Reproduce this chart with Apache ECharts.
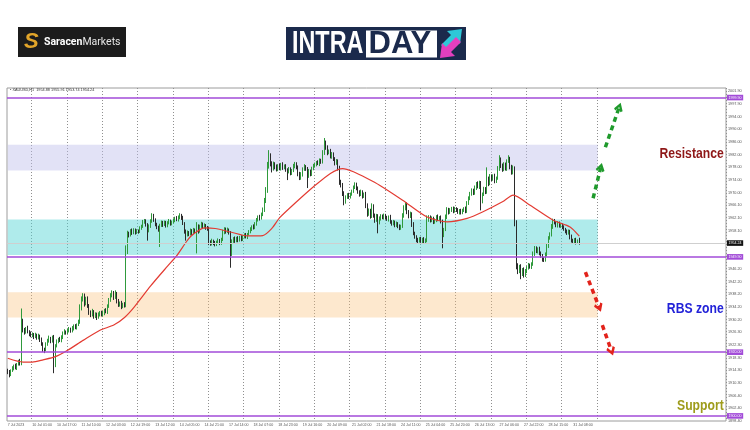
<!DOCTYPE html>
<html><head><meta charset="utf-8">
<script src="https://cdn.jsdelivr.net/npm/echarts@6.0.0/dist/echarts.min.js"></script>
<style>html,body{margin:0;padding:0;background:#fff}#chart{width:750px;height:430px}</style>
</head><body><div id="chart"></div>
<script>
// ---- data (XAUUSD H1) ----
const firstOpen = 1914.3;
const closes = [
1913.8,1913.0,1914.2,1914.9,1915.6,1915.1,1916.2,1917.0,1916.4,1929.5,1927.0,1926.2,1927.4,1926.5,1925.8,1925.2,
1925.6,1924.8,1925.3,1924.5,1925.1,1924.0,1922.6,1921.0,1920.8,1922.4,1923.6,1924.3,1923.5,1924.6,1916.0,1922.0,1923.4,1924.1,1923.6,1924.8,1925.9,1926.4,1926.1,
1926.8,1927.3,1926.6,1927.5,1928.2,1927.7,1928.6,1929.4,1933.8,1936.5,1937.6,1935.2,1936.8,1934.6,1932.5,1931.6,1932.8,1931.2,1931.9,1930.9,1931.8,1932.4,1931.7,
1932.3,1933.1,1932.6,1934.4,1936.2,1937.8,1938.6,1937.2,1938.4,1936.0,1934.8,1935.5,1934.2,1935.0,1934.6,1952.0,1957.2,1956.8,1958.1,1957.4,1958.3,1957.6,1958.0,
1957.8,1958.9,1959.6,1960.8,1961.2,1960.1,1958.2,1959.5,1961.0,1962.8,1961.5,1960.2,1959.1,1958.6,1959.8,1960.6,1960.0,1960.8,1959.7,1960.5,1961.1,1960.3,1960.9,
1961.4,1962.0,1961.5,1962.3,1962.9,1962.2,1960.4,1958.0,1956.8,1957.6,1957.0,1958.1,1957.5,1958.4,1957.9,1959.6,1958.0,1959.4,1960.2,1959.3,1959.8,1959.1,1958.7,
1954.6,1954.0,1954.9,1954.3,1953.8,1954.5,1955.0,1954.2,1955.3,1957.6,1958.6,1957.9,1958.4,1957.5,1951.0,1954.8,1955.6,1954.9,1955.8,1955.2,1956.0,1955.4,1956.3,
1956.8,1956.2,1957.0,1957.8,1958.6,1959.4,1959.0,1960.3,1961.5,1962.4,1962.0,1963.2,1964.6,1967.5,1970.8,1978.6,1981.5,1979.2,1977.6,1979.0,1978.2,1977.4,1978.5,
1977.6,1978.8,1977.9,1978.4,1977.2,1976.6,1977.4,1976.2,1977.0,1978.3,1979.0,1978.1,1976.0,1974.6,1975.8,1977.4,1978.2,1977.5,1975.2,1976.8,1975.9,1977.6,1978.4,
1978.9,1979.5,1979.1,1980.2,1979.6,1982.5,1985.6,1984.2,1982.6,1983.0,1981.4,1982.2,1980.5,1979.2,1980.0,1977.8,1973.5,1972.6,1969.8,1967.2,1968.6,1969.4,1968.8,
1969.6,1970.4,1971.8,1972.6,1971.5,1970.2,1969.4,1970.3,1968.9,1969.5,1966.0,1963.4,1964.5,1962.6,1965.8,1963.0,1961.5,1962.8,1960.6,1961.9,1962.7,1962.1,1962.9,
1962.2,1961.7,1962.5,1960.9,1960.2,1960.8,1959.8,1960.4,1959.6,1958.9,1959.4,1962.8,1965.2,1966.4,1964.1,1962.6,1963.4,1960.2,1957.4,1956.2,1955.3,1954.9,1955.6,
1954.8,1955.4,1954.6,1955.1,1961.6,1962.4,1961.2,1961.9,1960.8,1961.5,1962.6,1961.7,1962.2,1961.0,1956.8,1958.5,1962.4,1964.8,1963.9,1964.6,1965.2,1964.3,1965.0,
1964.6,1963.9,1964.5,1963.8,1964.4,1965.0,1964.2,1966.8,1968.4,1969.6,1970.8,1969.9,1971.6,1972.8,1972.0,1973.1,1967.4,1969.6,1971.2,1970.4,1974.2,1973.0,1975.1,
1974.3,1975.2,1973.8,1974.6,1977.5,1980.4,1978.6,1977.3,1978.8,1977.6,1979.9,1980.6,1978.2,1976.4,1977.8,1960.5,1947.2,1945.4,1946.8,1944.6,1945.9,1944.2,1945.5,
1946.4,1947.3,1946.8,1947.6,1950.8,1952.6,1951.8,1952.4,1951.0,1950.3,1949.2,1948.9,1950.6,1953.4,1955.8,1956.9,1959.4,1961.2,1960.6,1959.8,1960.4,1959.6,1959.9,
1959.2,1958.6,1958.0,1957.4,1957.9,1956.2,1955.0,1954.6,1955.3,1954.5,1954.88,1954.24
];
const wickUp = [
0.5,0.6,0.4,0.7,0.5,0.8,0.4,0.6,0.9,4.2,1.0,0.6,0.5,0.9,0.4,0.7,
0.6,0.4,0.8,0.5,0.7,0.4,0.6,0.5,0.4,0.7,0.6,0.9,0.5,0.6,0.8,0.5,0.6,0.4,0.7,0.5,0.6,0.8,0.4,
0.5,0.6,0.4,0.7,0.5,0.6,0.4,0.8,1.2,1.0,0.9,0.8,0.6,0.7,0.5,0.6,0.8,0.4,0.6,0.5,0.7,0.5,0.6,
0.6,0.5,0.7,0.6,0.8,0.7,0.8,0.6,1.0,0.5,0.7,0.4,0.6,0.5,0.7,1.5,0.9,0.6,0.5,0.7,0.6,0.5,0.6,
0.5,0.6,0.4,0.7,0.6,0.5,0.4,0.6,0.7,0.8,0.6,0.5,0.4,0.6,0.5,0.7,0.6,0.5,0.4,0.6,0.7,0.5,0.4,
0.6,0.5,0.7,0.6,0.7,0.5,0.6,0.4,0.5,0.6,0.4,0.7,0.5,0.6,0.4,1.2,0.5,0.6,0.7,0.5,0.6,0.4,0.5,
0.6,0.5,0.7,0.4,0.6,0.5,0.7,0.5,0.6,0.8,0.6,0.5,0.7,0.4,0.5,0.6,0.5,0.7,0.4,0.6,0.5,0.7,0.4,
0.5,0.6,0.4,0.5,0.6,0.4,0.7,0.5,0.6,0.5,0.7,0.6,0.8,0.9,1.0,1.1,1.9,0.9,0.7,0.8,0.6,0.7,0.5,
0.7,0.6,0.8,0.5,0.6,0.5,0.7,0.6,0.5,0.8,0.7,0.6,0.5,0.6,0.7,0.6,0.8,0.5,0.6,0.7,0.5,0.6,0.7,
0.6,0.5,0.7,0.6,0.5,0.9,1.6,0.8,0.7,0.6,0.8,0.6,0.5,0.7,0.6,0.5,0.7,0.6,0.5,0.7,0.6,0.5,0.6,
0.5,0.6,0.5,0.7,0.6,0.5,0.6,0.7,0.5,0.6,0.8,0.7,0.6,0.5,0.9,0.6,0.5,0.6,0.5,0.7,0.6,0.5,0.6,
0.5,0.6,0.4,0.6,0.5,0.7,0.5,0.6,0.4,0.5,0.6,0.8,0.9,0.7,0.6,0.5,0.7,0.5,0.6,0.4,0.5,0.6,0.5,
0.6,0.5,0.7,0.6,1.3,0.6,0.5,0.7,0.6,0.5,0.4,0.6,0.5,0.7,0.6,0.5,0.8,0.7,0.5,0.6,0.4,0.5,0.6,
0.5,0.6,0.4,0.5,0.6,0.5,0.7,0.6,0.5,0.7,0.6,0.5,0.7,0.6,0.8,0.7,0.6,0.5,0.7,0.6,3.8,0.9,0.8,
0.7,0.6,0.8,0.5,0.9,1.4,0.7,0.6,0.8,0.7,0.6,1.2,0.7,0.6,0.8,0.5,0.9,0.7,0.6,0.8,0.5,0.7,0.6,
0.6,0.7,0.5,0.6,0.8,0.7,0.6,0.5,0.7,0.6,0.5,0.6,0.7,0.8,0.6,0.7,0.8,0.7,0.6,0.5,0.7,0.6,0.5,
0.5,0.6,0.4,0.5,0.6,0.5,0.7,0.6,0.5,0.6,0.5,1.03
];
const wickDown = [
0.7,0.9,0.5,0.4,0.6,0.5,0.7,0.4,0.6,0.5,0.8,0.7,0.4,0.6,0.8,0.5,
0.5,0.7,0.4,0.6,0.5,0.8,0.6,0.9,1.1,0.5,0.4,0.6,0.7,0.5,2.6,0.7,0.5,0.6,0.4,0.5,0.7,0.4,0.6,
0.4,0.6,0.5,0.4,0.7,0.5,0.6,0.4,0.5,0.7,0.6,0.9,0.5,0.7,0.8,0.6,0.4,0.7,0.5,0.8,0.4,0.6,0.5,
0.5,0.7,0.4,0.6,0.5,0.4,0.6,0.8,0.5,0.7,0.6,0.5,0.7,0.4,0.6,0.5,1.2,0.8,0.5,0.6,0.4,0.7,0.5,
0.6,0.4,0.5,0.6,0.5,0.7,3.2,0.6,0.5,0.4,0.6,0.7,0.5,0.8,5.6,0.5,0.7,0.4,0.6,0.5,0.4,0.6,0.5,
0.5,0.6,0.4,0.5,0.6,0.7,0.5,0.8,1.8,0.5,0.6,0.4,0.7,0.5,0.6,6.9,0.8,0.5,0.4,0.6,0.5,0.7,0.6,
1.0,0.6,0.5,0.7,0.6,0.5,0.4,0.6,0.5,0.4,0.6,0.7,0.5,0.6,4.5,0.8,0.5,0.6,0.4,0.7,0.5,0.6,0.5,
0.6,0.5,0.7,0.4,0.5,0.6,0.5,0.4,0.6,0.5,0.7,0.4,0.5,0.6,0.7,0.8,1.0,0.9,1.2,0.6,0.8,0.7,0.6,
0.5,0.6,0.7,0.5,0.6,2.6,0.5,0.7,0.6,0.5,0.6,0.7,0.8,0.6,0.5,0.7,0.5,0.6,3.7,0.5,0.7,0.6,0.5,
0.5,0.6,0.4,0.7,0.5,0.4,0.6,0.7,0.8,0.5,0.6,0.7,0.5,0.6,0.4,0.8,1.0,0.9,0.8,1.1,0.6,0.5,0.7,
0.6,0.5,0.4,0.6,0.7,0.5,0.6,0.4,0.7,0.5,0.8,0.9,0.6,0.7,0.5,0.8,0.9,0.6,3.3,0.5,0.6,0.4,0.5,
0.6,0.5,0.7,0.6,0.5,0.4,0.6,0.5,0.7,0.6,0.5,0.4,0.6,0.7,0.8,0.6,0.5,0.9,0.7,0.6,0.8,0.7,0.5,
0.5,0.6,0.4,0.5,0.6,0.7,0.5,0.4,0.6,0.5,0.7,0.6,0.5,0.6,4.2,0.7,0.5,0.6,0.7,0.5,0.6,0.7,0.5,
0.6,0.5,0.7,0.6,0.5,0.4,0.6,0.5,0.6,0.7,0.5,0.6,0.5,0.7,0.6,0.8,2.9,0.7,0.6,0.8,0.7,0.9,0.6,
0.6,0.5,0.8,0.7,0.5,0.6,0.8,0.7,0.5,0.6,0.7,0.5,0.8,0.7,0.6,1.0,1.2,0.9,0.6,1.7,0.7,0.8,0.6,
0.7,0.5,0.6,0.7,0.5,0.6,0.7,0.8,0.6,0.7,0.8,0.6,0.5,0.6,0.7,0.5,0.6,0.7,0.5,0.6,0.7,0.5,0.6,
0.6,0.5,0.7,0.6,0.5,0.8,0.6,0.5,0.6,0.7,0.5,0.5
];
// moving average read at selected bars
const maIdx = [0,10,16,23,31,39,49,60,69,76,82,93,104,110,116,119,123,128,135,145,156,166,172,177,188,199,210,218,225,234,242,257,273,286,299,309,322,329,340,355,366,372];
const maVal = [1918.1,1916.9,1916.9,1917.6,1918.6,1920.6,1923.7,1926.9,1928.5,1930.9,1934.0,1940.8,1947.0,1950.3,1954.5,1956.3,1957.8,1959.0,1958.8,1957.7,1956.5,1956.6,1958.9,1962.2,1967.2,1971.9,1976.1,1977.6,1976.6,1974.5,1972.4,1967.7,1962.4,1960.9,1962.0,1964.0,1967.2,1969.3,1966.1,1961.4,1959.3,1956.4];
// time axis (hour slots, 23 per trading day)
const slotCount = 468;
const labelEvery = 16;
const xLabels = ["7 Jul 2023","10 Jul 01:00","10 Jul 17:00","11 Jul 10:00","12 Jul 03:00","12 Jul 19:00","13 Jul 12:00","14 Jul 05:00","14 Jul 21:00","17 Jul 14:00","18 Jul 07:00","18 Jul 23:00","19 Jul 16:00","20 Jul 09:00","21 Jul 02:00","21 Jul 18:00","24 Jul 11:00","25 Jul 04:00","25 Jul 20:00","26 Jul 13:00","27 Jul 06:00","27 Jul 22:00","28 Jul 15:00","31 Jul 08:00"];
const dayStarts = [16,39,62,85,108,131,154,177,200,223,246,269,292,315,338,361,384];
// price axis
const yMin = 1898.4, yMax = 2002.9, yStep = 3.98;
const yTickLabels = ["1898.40","1902.40","1906.40","1910.30","1914.30","1918.30","1922.30","1926.30","1930.20","1934.20","1938.20","1942.20","1946.20","1950.10","1954.10","1958.10","1962.10","1966.10","1970.00","1974.00","1978.00","1982.00","1986.00","1990.00","1994.00","1997.90","2001.90"];
// levels and zones
const levelLines = [1999.90, 1949.90, 1920.00, 1900.00];
const lastPrice = 1954.24;
const zoneLow = [1977.0, 1950.5, 1930.9];
const zoneHigh = [1985.1, 1961.6, 1938.8];
const zoneEnd = 384;
// annotation arrows [fromIdx, fromPrice, toIdx, toPrice]
const greenArrows = [[381,1968.3,386,1978.0],[389,1984.3,398,1996.9]];
const redArrows = [[376,1945.1,385,1934.0],[387,1928.5,393,1920.3]];
const noteTexts = ["Resistance","RBS zone","Support"];
const notePrices = [1982.1, 1933.5, 1903.0];
const noteIdx = 466;

// ---- build ----
const cats = Array.from({length: slotCount}, (_, i) => String(i));
const candles = closes.map((c, i) => {
  const o = i === 0 ? firstOpen : closes[i - 1];
  return [o, c, +(Math.min(o, c) - wickDown[i]).toFixed(2), +(Math.max(o, c) + wickUp[i]).toFixed(2)];
});
const zoneColors = ['rgba(190,190,235,0.45)', 'rgba(80,212,212,0.46)', 'rgba(250,190,120,0.36)'];
const noteColors = ['#8e1717', '#2222d8', '#9e9c1c'];
const purple = '#a24bd8';
const chevron = 'path://M5,0 L10,8 L8,10 L5,5 L2,10 L0,8 Z';

function fmtY(v) {
  const k = Math.round((v - yMin) / yStep);
  if (Math.abs(v - (yMin + k * yStep)) < 0.02 && yTickLabels[k]) return yTickLabels[k];
  return '';
}
function arrowItems(list, color) {
  return list.map(a => [
    {coord: [a[0], a[1]], lineStyle: {color: color, width: 3.5, type: [5, 4]}, itemStyle: {color: color}},
    {coord: [a[2], a[3]]}
  ]);
}

const baseGraphic = [
  {type: 'text', left: 10, top: 87.5, z: 50, style: {text: '\u25AA XAUUSD,H1  1954.88 1955.91 1953.74 1954.24', fontSize: 3.8, fill: '#333', fontFamily: 'Liberation Sans'}},
  {type: 'rect', shape: {x: 18, y: 27, width: 108, height: 30}, style: {fill: '#1c1c1c'}},
  {type: 'text', x: 24, y: 42, style: {text: 'S', fontSize: 22, fontWeight: 'bold', fontStyle: 'italic', fill: '#e2a52a', verticalAlign: 'middle', fontFamily: 'Liberation Sans'}},
  {type: 'text', x: 44, y: 42.5, style: {text: '{b|Saracen}{n|Markets}', verticalAlign: 'middle',
    rich: {b: {fontWeight: 'bold', fill: '#fff', color: '#fff', fontSize: 10.5, fontFamily: 'Roboto'}, n: {fill: '#e6e6e6', color: '#e6e6e6', fontSize: 10.5, fontFamily: 'Roboto'}}}},
  {type: 'rect', shape: {x: 286, y: 27, width: 180, height: 33}, style: {fill: '#1b2a4c'}},
  {type: 'text', x: 292, y: 44.5, scaleX: 0.73, style: {text: 'INTRA', fontSize: 32, fontWeight: 'bold', fill: '#fff', verticalAlign: 'middle', fontFamily: 'Liberation Sans'}},
  {type: 'rect', shape: {x: 366, y: 30.5, width: 71, height: 27}, style: {fill: '#fff'}},
  {type: 'text', x: 368.5, y: 44.5, scaleX: 0.97, style: {text: 'DAY', fontSize: 32, fontWeight: 'bold', fill: '#1b2a4c', verticalAlign: 'middle', fontFamily: 'Liberation Sans'}},
  {type: 'polygon', shape: {points: [[441,45],[451,35],[447,31],[462,29],[460,44],[456,40],[446,50]]}, style: {fill: '#2ec8d8'}},
  {type: 'polygon', shape: {points: [[461,42],[451,52],[455,56],[440,58],[442,43],[446,47],[456,37]]}, style: {fill: '#e43fbe'}}
];

const chart = echarts.init(document.getElementById('chart'), null, {renderer: 'canvas'});
chart.setOption({
  animation: false,
  backgroundColor: '#fff',
  grid: {left: 7, right: 24, top: 88, bottom: 9, show: true, borderColor: '#9c9c9c', borderWidth: 1},
  xAxis: {
    type: 'category', data: cats, boundaryGap: true,
    axisLine: {show: false}, axisTick: {show: false},
    axisLabel: {
      interval: (i) => i % labelEvery === 0 && i / labelEvery < xLabels.length,
      formatter: (v, i) => xLabels[i / labelEvery] || '',
      fontSize: 3.6, color: '#555', align: 'left', margin: 2, fontFamily: 'Liberation Sans'
    },
    splitLine: {show: true, interval: (i) => dayStarts.indexOf(i) >= 0, lineStyle: {color: '#8f8f8f', width: 1, type: [1, 2]}}
  },
  yAxis: {
    type: 'value', position: 'right', min: yMin, max: yMax, interval: yStep,
    axisLine: {show: false}, axisTick: {show: false}, splitLine: {show: false},
    axisLabel: {fontSize: 3.8, color: '#555', margin: 2, formatter: fmtY, fontFamily: 'Liberation Sans'}
  },
  graphic: baseGraphic,
  series: [
    {
      name: 'XAUUSD', type: 'candlestick', data: candles, z: 3,
      itemStyle: {color: '#2f9a3c', color0: '#2b2b2b', borderColor: '#2f9a3c', borderColor0: '#2b2b2b', borderWidth: 1},
      markArea: {
        silent: true,
        data: zoneLow.map((lo, k) => [
          {xAxis: 0, yAxis: lo, itemStyle: {color: zoneColors[k]}},
          {xAxis: zoneEnd, yAxis: zoneHigh[k]}
        ])
      }
    },
    {
      name: 'MA', type: 'line', data: maIdx.map((x, k) => [x, maVal[k]]), z: 4,
      symbol: 'none', showSymbol: false, smooth: 0.25,
      lineStyle: {color: '#e33b32', width: 1.2}
    },
    {
      name: 'levels', type: 'line', data: [], z: 5,
      markLine: {
        silent: true, symbol: 'none', animation: false,
        data: levelLines.map(v => ({
          yAxis: v, lineStyle: {color: purple, width: 1.5, type: 'solid'},
          label: {show: true, position: 'end', distance: 1, formatter: (p) => p.value.toFixed(2), backgroundColor: purple, color: '#fff', fontSize: 3.6, padding: [0.8, 1.6], fontFamily: 'Liberation Sans'}
        })).concat([{
          yAxis: lastPrice, lineStyle: {color: '#cfcfcf', width: 1, type: 'solid'},
          label: {show: true, position: 'end', distance: 1, formatter: (p) => p.value.toFixed(2), backgroundColor: '#111', color: '#fff', fontSize: 3.6, padding: [0.8, 1.6], fontFamily: 'Liberation Sans'}
        }])
      }
    },
    {
      name: 'arrows', type: 'line', data: [], z: 6,
      markLine: {
        silent: true, animation: false, symbol: ['none', chevron], symbolSize: [9, 9],
        label: {show: false},
        data: arrowItems(greenArrows, '#1f9a2c').concat(arrowItems(redArrows, '#e2231b'))
      }
    }
  ]
});

// zone captions, anchored through the chart's own scales
const noteGraphic = noteTexts.map((t, k) => {
  const p = chart.convertToPixel({gridIndex: 0}, [noteIdx, notePrices[k]]);
  return {type: 'text', x: p[0], y: p[1], scaleX: 0.84, z: 60,
    style: {text: t, align: 'right', verticalAlign: 'middle', fontSize: 14.5, fontWeight: 'bold', fill: noteColors[k], fontFamily: 'Liberation Sans'}};
});
chart.setOption({graphic: baseGraphic.concat(noteGraphic)});
</script>
</body></html>
